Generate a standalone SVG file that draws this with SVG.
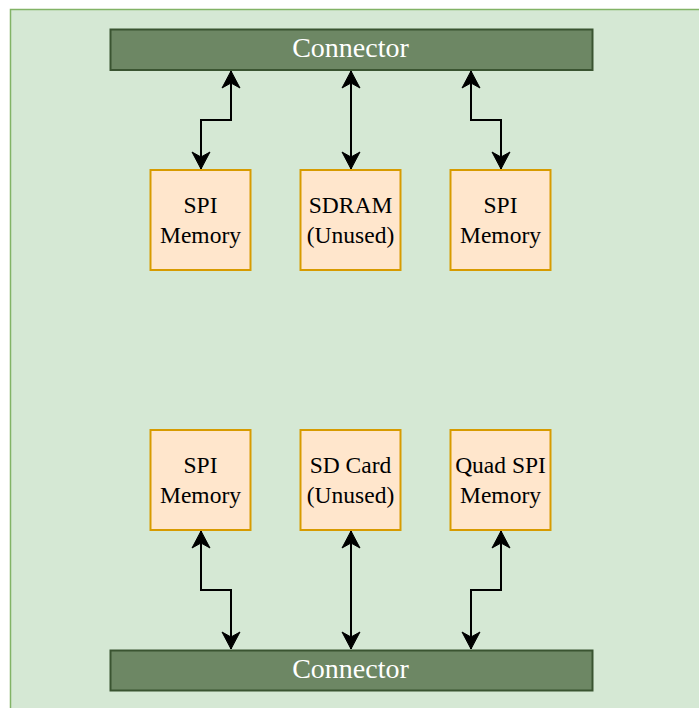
<svg xmlns="http://www.w3.org/2000/svg" width="699" height="708" viewBox="0 0 699 708">
<style>
.bg{fill:#d5e8d4;stroke:#82b366;stroke-width:1.5}
.conn rect{fill:#6d8764;stroke:#3a5431;stroke-width:2}
.conn text{fill:#ffffff;font-family:"Liberation Serif","Times New Roman",serif;font-size:28px;text-anchor:middle}
.box rect{fill:#ffe6cc;stroke:#d79b00;stroke-width:2}
.box text{fill:#000000;font-family:"Liberation Serif","Times New Roman",serif;font-size:23.5px;text-anchor:middle}
.edge{fill:none;stroke:#000000;stroke-width:2;marker-start:url(#arr);marker-end:url(#arr)}
</style>
<defs>
<marker id="arr" markerUnits="userSpaceOnUse" markerWidth="20" markerHeight="20" viewBox="-18 -10 20 20" refX="0" refY="0" orient="auto-start-reverse">
<path d="M0,0 L-17,-9 L-12,0 L-17,9 Z" fill="#000000" stroke="#000000" stroke-width="1"/>
</marker>
</defs>
<rect class="bg" x="10.5" y="9.5" width="700" height="710"/>
<g id="connectors">
<path class="edge" d="M231,71 V120 H201 V169"/>
<path class="edge" d="M351,71 V169"/>
<path class="edge" d="M471,71 V120 H501 V169"/>
<path class="edge" d="M201,531 V590 H231 V649"/>
<path class="edge" d="M351,531 V649"/>
<path class="edge" d="M501,531 V590 H471 V649"/>
</g>
<g id="connector-top" class="conn">
<rect x="110.5" y="29.5" width="482" height="40.5"/>
<text x="350.5" y="56.5">Connector</text>
</g>
<g id="connector-bottom" class="conn">
<rect x="110.5" y="650.5" width="482" height="40"/>
<text x="350.5" y="677.5">Connector</text>
</g>
<g id="spi-top-left" class="box">
<rect x="150.5" y="170" width="100" height="100"/>
<text x="200.5" y="213">SPI</text>
<text x="200.5" y="243">Memory</text>
</g>
<g id="sdram" class="box">
<rect x="300.5" y="170" width="100" height="100"/>
<text x="350.5" y="213">SDRAM</text>
<text x="350.5" y="243">(Unused)</text>
</g>
<g id="spi-top-right" class="box">
<rect x="450.5" y="170" width="100" height="100"/>
<text x="500.5" y="213">SPI</text>
<text x="500.5" y="243">Memory</text>
</g>
<g id="spi-bottom-left" class="box">
<rect x="150.5" y="430" width="100" height="100"/>
<text x="200.5" y="473">SPI</text>
<text x="200.5" y="503">Memory</text>
</g>
<g id="sdcard" class="box">
<rect x="300.5" y="430" width="100" height="100"/>
<text x="350.5" y="473">SD Card</text>
<text x="350.5" y="503">(Unused)</text>
</g>
<g id="quad-spi" class="box">
<rect x="450.5" y="430" width="100" height="100"/>
<text x="500.5" y="473">Quad SPI</text>
<text x="500.5" y="503">Memory</text>
</g>
</svg>
